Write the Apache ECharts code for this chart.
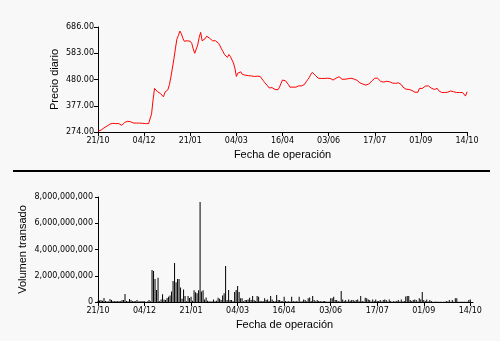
<!DOCTYPE html>
<html>
<head>
<meta charset="utf-8">
<script src="https://cdn.jsdelivr.net/npm/echarts@6/dist/echarts.min.js"></script>
<style>
  html, body { margin: 0; padding: 0; background: #f8f8f8; }
  #chart { width: 500px; height: 341px; }
</style>
</head>
<body>
<div id="chart"></div>
<script>
// Trading-day axis labels (one every 31 sessions)
const dateLabels = ['21/10', '04/12', '21/01', '04/03', '16/04', '03/06', '17/07', '01/09', '14/10'];
const sessionsPerLabel = 31;

// Price axis ticks
const priceTicks = [274, 377, 480, 583, 686];

// Daily closing price, one value per trading session
const dailyPrice = [
  278, 280, 281, 285, 290, 296, 297, 298, 305, 308,
  308, 304, 307, 302, 307, 306, 300, 305, 312, 316,
  316, 317, 314, 313, 309, 310, 309, 309, 309, 308,
  308, 308, 307, 307, 307, 306, 345, 400, 445, 452,
  432, 430, 425, 418, 412, 430, 433, 440, 460, 490,
  525, 560, 600, 638, 652, 670, 660, 642, 630, 632,
  632, 632, 630, 622, 600, 583, 588, 615, 645, 665,
  632, 628, 640, 650, 648, 642, 636, 632, 632, 632,
  632, 622, 612, 600, 590, 578, 574, 567, 578, 570,
  565, 545, 525, 492, 505, 511, 510, 500, 496, 497,
  492, 495, 490, 494, 497, 492, 491, 493, 493, 492,
  485, 476, 468, 462, 455, 447, 445, 448, 453, 441,
  436, 440, 450, 465, 478, 476, 475, 468, 460, 450,
  449, 450, 450, 450, 452, 455, 455, 455, 456, 462,
  472, 480, 488, 500, 508, 507, 497, 490, 485, 487,
  484, 482, 484, 478, 485, 485, 484, 482, 478, 484,
  485, 485, 491, 484, 481, 481, 481, 481, 483, 485,
  485, 485, 482, 478, 477, 472, 467, 465, 462, 456,
  458, 461, 462, 468, 474, 480, 485, 485, 485, 478,
  472, 469, 470, 470, 473, 472, 471, 470, 466, 465,
  465, 467, 467, 465, 459, 450, 445, 442, 444, 441,
  441, 437, 432, 430, 429, 430, 445, 448, 445, 449,
  454, 455, 455, 450, 446, 444, 441, 445, 445, 436,
  432, 429, 429, 429, 429, 430, 435, 435, 435, 432,
  429, 429, 429, 429, 429, 429, 425, 415, 432
];

// Traded volume per session
const dailyVolume = [
  100e6, 120e6, 150e6, 100e6, 300e6, 80e6, 50e6, 30e6, 230e6, 150e6,
  80e6, 60e6, 80e6, 60e6, 80e6, 50e6, 150e6, 150e6, 610e6, 80e6,
  50e6, 230e6, 150e6, 50e6, 80e6, 60e6, 150e6, 40e6, 80e6, 30e6,
  80e6, 50e6, 20e6, 30e6, 150e6, 50e6, 2440e6, 2360e6, 1750e6, 910e6,
  1850e6, 50e6, 200e6, 600e6, 200e6, 150e6, 300e6, 400e6, 500e6, 800e6,
  1600e6, 2970e6, 1500e6, 1750e6, 1750e6, 1100e6, 250e6, 950e6, 450e6, 50e6,
  450e6, 300e6, 400e6, 100e6, 900e6, 750e6, 660e6, 900e6, 7620e6, 800e6,
  900e6, 200e6, 350e6, 100e6, 50e6, 40e6, 50e6, 200e6, 50e6, 100e6,
  330e6, 250e6, 150e6, 500e6, 660e6, 2740e6, 150e6, 910e6, 150e6, 150e6,
  50e6, 760e6, 910e6, 1220e6, 760e6, 280e6, 280e6, 50e6, 150e6, 150e6,
  200e6, 330e6, 150e6, 460e6, 150e6, 80e6, 460e6, 400e6, 80e6, 50e6,
  80e6, 280e6, 150e6, 200e6, 80e6, 460e6, 200e6, 80e6, 50e6, 530e6,
  150e6, 150e6, 80e6, 50e6, 400e6, 80e6, 30e6, 50e6, 30e6, 400e6,
  80e6, 30e6, 80e6, 30e6, 400e6, 30e6, 50e6, 200e6, 150e6, 50e6,
  280e6, 350e6, 80e6, 460e6, 150e6, 50e6, 150e6, 80e6, 80e6, 30e6,
  80e6, 80e6, 30e6, 20e6, 30e6, 280e6, 280e6, 400e6, 150e6, 150e6,
  80e6, 30e6, 840e6, 200e6, 80e6, 150e6, 30e6, 200e6, 100e6, 150e6,
  150e6, 80e6, 150e6, 200e6, 50e6, 460e6, 80e6, 30e6, 330e6, 280e6,
  200e6, 150e6, 30e6, 200e6, 80e6, 200e6, 80e6, 80e6, 150e6, 30e6,
  150e6, 200e6, 150e6, 30e6, 200e6, 80e6, 20e6, 80e6, 30e6, 80e6,
  150e6, 30e6, 200e6, 30e6, 80e6, 410e6, 460e6, 460e6, 150e6, 80e6,
  150e6, 200e6, 150e6, 30e6, 280e6, 200e6, 760e6, 150e6, 80e6, 200e6,
  30e6, 150e6, 80e6, 20e6, 10e6, 30e6, 10e6, 10e6, 20e6, 10e6,
  10e6, 20e6, 80e6, 30e6, 150e6, 20e6, 150e6, 20e6, 280e6, 280e6,
  20e6, 10e6, 10e6, 20e6, 10e6, 10e6, 20e6, 150e6, 200e6
];

const labelPositions = dateLabels.map((_, i) => i * sessionsPerLabel);
const lastSession = labelPositions[labelPositions.length - 1];

const tickFont = { fontFamily: 'DejaVu Sans', fontSize: 8, color: '#000' };
const nameFont = { fontFamily: 'Liberation Sans', fontSize: 11, color: '#000' };
const blackLine = { show: true, lineStyle: { color: '#000', width: 1 } };

const chart = echarts.init(document.getElementById('chart'), null, { renderer: 'canvas' });

chart.setOption({
  backgroundColor: '#f8f8f8',
  animation: false,
  grid: [
    { left: 98, top: 27, width: 369, height: 105 },
    { left: 96, top: 197, width: 377, height: 105 }
  ],
  xAxis: [
    {
      gridIndex: 0, type: 'value', min: 0, max: lastSession,
      name: 'Fecha de operación', nameLocation: 'middle', nameGap: 17, nameTextStyle: nameFont,
      nameMoveOverlap: false,
      axisLine: blackLine,
      axisTick: { show: true, length: 4, lineStyle: { color: '#000' }, customValues: labelPositions },
      axisLabel: {
        ...tickFont, margin: 5, customValues: labelPositions,
        formatter: v => dateLabels[Math.round(v / sessionsPerLabel)]
      },
      splitLine: { show: false }
    },
    {
      gridIndex: 1, type: 'value', min: -1.33, max: 249.8,
      name: 'Fecha de operación', nameLocation: 'middle', nameGap: 17, nameTextStyle: nameFont,
      nameMoveOverlap: false,
      axisLine: blackLine,
      axisTick: { show: true, length: 4, lineStyle: { color: '#000' }, customValues: labelPositions },
      axisLabel: {
        ...tickFont, margin: 5, customValues: labelPositions,
        formatter: v => dateLabels[Math.round(v / sessionsPerLabel)]
      },
      splitLine: { show: false }
    }
  ],
  yAxis: [
    {
      gridIndex: 0, type: 'value', min: priceTicks[0], max: priceTicks[priceTicks.length - 1],
      name: 'Precio diario', nameLocation: 'middle', nameGap: 38, nameRotate: 90, nameTextStyle: nameFont,
      nameMoveOverlap: false,
      axisLine: blackLine,
      axisTick: { show: true, length: 4, lineStyle: { color: '#000' }, customValues: priceTicks },
      axisLabel: { ...tickFont, margin: 4, customValues: priceTicks, formatter: v => v.toFixed(2) },
      splitLine: { show: false }
    },
    {
      gridIndex: 1, type: 'value', min: 0, max: 8e9, interval: 2e9,
      name: 'Volumen transado', nameLocation: 'middle', nameGap: 68, nameRotate: 90, nameTextStyle: nameFont,
      nameMoveOverlap: false,
      axisLine: blackLine,
      axisTick: { show: true, length: 3, lineStyle: { color: '#000' } },
      axisLabel: { ...tickFont, margin: 3, formatter: v => v.toLocaleString('en-US') },
      splitLine: { show: false }
    }
  ],
  series: [
    {
      type: 'line', xAxisIndex: 0, yAxisIndex: 0,
      data: dailyPrice.map((p, i) => [i, p]),
      showSymbol: false, symbol: 'none',
      lineStyle: { color: '#ff0000', width: 1 }
    },
    {
      type: 'bar', xAxisIndex: 1, yAxisIndex: 1,
      data: dailyVolume.map((v, i) => [i, v]),
      barWidth: 1,
      itemStyle: { color: '#000' }
    }
  ],
  graphic: [
    { type: 'rect', shape: { x: 13, y: 170, width: 477, height: 2 }, style: { fill: '#000' }, silent: true }
  ]
});
</script>
</body>
</html>
